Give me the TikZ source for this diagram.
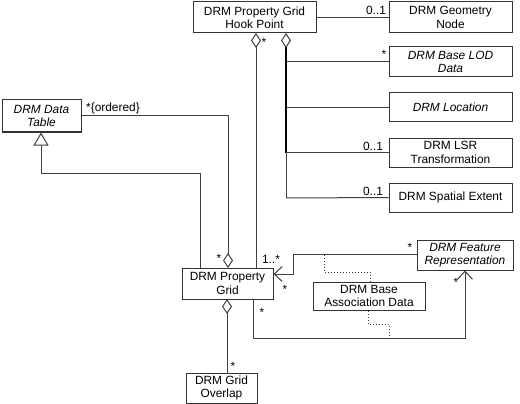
\documentclass[tikz,border=0pt]{standalone}
\usepackage{fontspec}
\setmainfont{Liberation Sans}
\usetikzlibrary{arrows.meta}
\begin{document}
\begin{tikzpicture}[x=1pt,y=-1pt,
  every node/.style={font=\fontsize{11.9}{13.5}\selectfont},
  cls/.style={draw=black!80,line width=1pt,fill=white,inner sep=0pt,align=center,minimum height=30pt},
  conn/.style={draw=black!75,line width=1pt},
  dots/.style={draw=black!75,line width=1pt,dotted},
  lbl/.style={inner sep=0pt},
  agg/.style={{Diamond[open,length=15pt,width=10pt]}-},
  gen/.style={-{Triangle[open,length=13pt,width=15pt]}},
  nav/.style={-{Straight Barb[length=8pt,width=15pt]}}
]
\useasboundingbox (0,0) rectangle (520,404);
% classes
\node[cls,minimum width=123pt,minimum height=31pt] (hook) at (254.5,17.5) {DRM Property Grid\\Hook Point};
\node[cls,minimum width=123pt,minimum height=31pt] (geom) at (450.5,17.5) {DRM Geometry\\Node};
\node[cls,minimum width=123pt] (lod) at (450.5,62) {\itshape DRM Base LOD\\\itshape Data};
\node[cls,minimum width=123pt,minimum height=29pt] (loc) at (450.5,107.5) {\itshape DRM Location};
\node[cls,minimum width=123pt,minimum height=29pt] (lsr) at (450.5,152.5) {DRM LSR\\Transformation};
\node[cls,minimum width=123pt,minimum height=29pt] (spat) at (450.5,197.5) {DRM Spatial Extent};
\node[cls,minimum width=79pt,minimum height=32pt] (table) at (41.5,116) {\itshape DRM Data\\\itshape Table};
\node[cls,minimum width=91pt,minimum height=31pt] (pg) at (227.5,283.5) {DRM Property\\Grid};
\node[cls,minimum width=96pt] (feat) at (465,255) {\itshape DRM Feature\\\itshape Representation};
\node[cls,minimum width=112pt,minimum height=28pt] (bad) at (369,296) {DRM Base\\Association Data};
\node[cls,minimum width=71pt] (ovl) at (221.5,388) {DRM Grid\\Overlap};
% hook point -> geometry node
\draw[conn] (hook.east) -- (geom.west);
\node[lbl] at (376,10) {0..1};
% hook point composition fan
\coordinate (hd) at (286,33);
\coordinate (hdb) at (286,198);
\draw[conn,agg] (hd) -- (hdb);
\draw[draw=black,line width=1.1pt] (286,47) -- (hd |- lsr.west);
\draw[conn] (hdb) -- (spat.west);
\draw[conn] (hd |- lod.west) -- (lod.west);
\draw[conn] (hd |- loc.west) -- (loc.west);
\draw[conn] (hd |- lsr.west) -- (lsr.west);
\node[lbl] at (384,54) {*};
\node[lbl] at (373,146) {0..1};
\node[lbl] at (373,191) {0..1};
% hook point -> property grid
\coordinate (ha) at (256,33);
\draw[conn,agg] (ha) -- (ha |- pg.north);
\node[lbl] at (264,42) {*};
\node[lbl] at (271,259) {1..*};
% data table aggregation
\coordinate (ta) at (228,268);
\coordinate (tb) at (228,116);
\draw[conn,agg] (ta) -- (tb) -- (table.east |- tb);
\node[lbl] at (219,258) {*};
\node[lbl,anchor=west] at (86,108) {*\{ordered\}};
% generalization
\coordinate (g1) at (200,268);
\coordinate (g2) at (200,173);
\coordinate (g3) at (41,173);
\draw[conn,gen] (g1) -- (g2) -- (g3) -- (table.south -| g3);
% feature -> property grid
\coordinate (f1) at (293,254);
\coordinate (f2) at (293,274);
\draw[conn,nav] (feat.west |- f1) -- (f1) -- (f2) -- (pg.east |- f2);
\node[lbl] at (410,247) {*};
\node[lbl] at (285,289) {*};
% property grid -> feature
\coordinate (p1) at (253,299);
\coordinate (p2) at (253,338);
\coordinate (p3) at (465,338);
\draw[conn,nav] (p1) -- (p2) -- (p3) -- (feat.south);
\node[lbl] at (262,312) {*};
\node[lbl] at (456,282) {*};
% association class dotted links
\coordinate (a1) at (370,272);
\coordinate (a2) at (324,272);
\coordinate (a3) at (324,254);
\draw[dots] (bad.north -| a1) -- (a1) -- (a2) -- (a3);
\coordinate (b1) at (368,324);
\coordinate (b2) at (389,324);
\coordinate (b3) at (389,338);
\draw[dots] (bad.south -| b1) -- (b1) -- (b2) -- (b3);
% grid overlap composition
\coordinate (o1) at (227,299);
\draw[conn,agg] (o1) -- (o1 |- ovl.north);
\node[lbl] at (233,366) {*};
\end{tikzpicture}
\end{document}
